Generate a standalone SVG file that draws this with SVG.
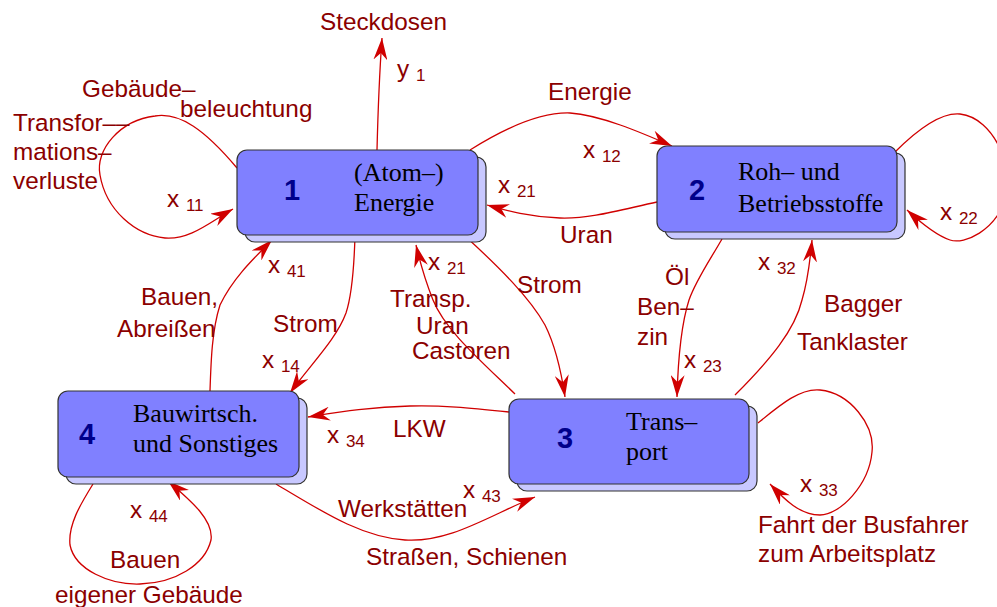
<svg xmlns="http://www.w3.org/2000/svg" width="997" height="607" viewBox="0 0 997 607">
<defs>
<marker id="ah" markerUnits="userSpaceOnUse" markerWidth="24" markerHeight="14" refX="22" refY="7" orient="auto">
<path d="M0,0 L22,7 L0,14 L7,7 Z" fill="#d00000"/>
</marker>
</defs>
<style>
.sh{fill:#c8c8ff;stroke:#333;stroke-width:1.2}
.bx{fill:#8080ff;stroke:#333;stroke-width:1.2}
.num{font-family:"Liberation Sans",Arial,sans-serif;font-weight:bold;font-size:29px;fill:#00008b;text-anchor:middle}
.nl{font-family:"Liberation Serif","Times New Roman",serif;font-size:26px;fill:#000}
.c{fill:none;stroke:#d00000;stroke-width:1.3;marker-end:url(#ah)}
.l{font-family:"Liberation Sans",Arial,sans-serif;font-size:24.3px;fill:#8b0000}
.s{font-size:17px}
</style>
<rect width="997" height="607" fill="#fff"/>
<g id="connectors">
<path class="c" d="M377,150 C378,110 379,80 382,38"/>
<path class="c" d="M237,168 C205,130 180,112 155,116 C120,120 95,150 100,175 C106,210 135,235 165,238 C190,240 210,222 233,209"/>
<path class="c" d="M470,150 C505,128 540,112 570,113 C600,115 640,132 672,146"/>
<path class="c" d="M657,202 C620,210 590,219 560,218 C530,217 508,211 487,205"/>
<path class="c" d="M895,152 C915,132 940,112 960,114 C995,118 1015,170 1005,200 C995,230 965,245 950,240 C935,235 920,222 907,210"/>
<path class="c" d="M355,236 C354,270 352,295 346,313 C336,340 310,365 290,393"/>
<path class="c" d="M210,391 C211,360 212,330 220,305 C232,280 250,262 272,240"/>
<path class="c" d="M515,394 C480,360 445,330 433,300 C425,280 420,262 416,245"/>
<path class="c" d="M465,236 C500,268 530,298 545,325 C555,345 561,370 565,397"/>
<path class="c" d="M722,239 C710,260 696,280 689,300 C681,325 678,360 677,397"/>
<path class="c" d="M735,395 C770,360 795,330 802,300 C808,280 810,262 812,240"/>
<path class="c" d="M509,412 C470,408 440,405 410,406 C370,407 340,412 308,417"/>
<path class="c" d="M276,484 C320,510 360,537 405,540 C450,543 490,515 535,497"/>
<path class="c" d="M93,484 C80,505 68,525 70,545 C75,570 110,585 140,584 C175,583 205,565 211,540 C214,520 190,500 168,481"/>
<path class="c" d="M758,423 C780,405 800,388 820,390 C850,393 875,425 872,452 C869,485 840,515 820,515 C800,515 785,500 770,484"/>
</g>
<g id="node1">
<rect class="sh" x="245" y="157" width="241" height="85" rx="10"/>
<rect class="bx" x="237" y="150" width="241" height="85" rx="10"/>
<text class="num" x="292" y="200">1</text>
<text class="nl" x="354" y="181">(Atom–)</text>
<text class="nl" x="354" y="211">Energie</text>
</g>
<g id="node2">
<rect class="sh" x="665" y="153" width="240" height="86" rx="10"/>
<rect class="bx" x="657" y="146" width="240" height="86" rx="10"/>
<text class="num" x="697" y="200">2</text>
<text class="nl" x="738" y="180">Roh– und</text>
<text class="nl" x="738" y="212">Betriebsstoffe</text>
</g>
<g id="node3">
<rect class="sh" x="517" y="406" width="240" height="85" rx="10"/>
<rect class="bx" x="509" y="399" width="240" height="85" rx="10"/>
<text class="num" x="565" y="448">3</text>
<text class="nl" x="626" y="430">Trans–</text>
<text class="nl" x="626" y="460">port</text>
</g>
<g id="node4">
<rect class="sh" x="66" y="398" width="241" height="86" rx="10"/>
<rect class="bx" x="58" y="391" width="241" height="86" rx="10"/>
<text class="num" x="87" y="444">4</text>
<text class="nl" x="133" y="422">Bauwirtsch.</text>
<text class="nl" x="133" y="452">und Sonstiges</text>
</g>
<g id="labels">
<text class="l" x="320" y="30">Steckdosen</text>
<text class="l" x="397" y="77">y <tspan class="s" dy="4">1</tspan></text>
<text class="l" x="82" y="97">Gebäude–</text>
<text class="l" x="180" y="117">beleuchtung</text>
<text class="l" x="13" y="131">Transfor––</text>
<text class="l" x="13" y="160">mations–</text>
<text class="l" x="13" y="189">verluste</text>
<text class="l" x="167" y="207">x <tspan class="s" dy="4">11</tspan></text>
<text class="l" x="548" y="100">Energie</text>
<text class="l" x="583" y="158">x <tspan class="s" dy="4">12</tspan></text>
<text class="l" x="498" y="193">x <tspan class="s" dy="4">21</tspan></text>
<text class="l" x="560" y="243">Uran</text>
<text class="l" x="940" y="220">x <tspan class="s" dy="4">22</tspan></text>
<text class="l" x="268" y="273">x <tspan class="s" dy="4">41</tspan></text>
<text class="l" x="141" y="305">Bauen,</text>
<text class="l" x="117" y="337">Abreißen</text>
<text class="l" x="273" y="332">Strom</text>
<text class="l" x="262" y="368">x <tspan class="s" dy="4">14</tspan></text>
<text class="l" x="428" y="270">x <tspan class="s" dy="4">21</tspan></text>
<text class="l" x="390" y="307">Transp.</text>
<text class="l" x="416" y="334">Uran</text>
<text class="l" x="412" y="359">Castoren</text>
<text class="l" x="517" y="293">Strom</text>
<text class="l" x="665" y="285">Öl</text>
<text class="l" x="637" y="315">Ben–</text>
<text class="l" x="637" y="345">zin</text>
<text class="l" x="684" y="368">x <tspan class="s" dy="4">23</tspan></text>
<text class="l" x="758" y="270">x <tspan class="s" dy="4">32</tspan></text>
<text class="l" x="824" y="312">Bagger</text>
<text class="l" x="797" y="350">Tanklaster</text>
<text class="l" x="393" y="437">LKW</text>
<text class="l" x="327" y="443">x <tspan class="s" dy="4">34</tspan></text>
<text class="l" x="338" y="517">Werkstätten</text>
<text class="l" x="463" y="498">x <tspan class="s" dy="4">43</tspan></text>
<text class="l" x="366" y="565">Straßen, Schienen</text>
<text class="l" x="130" y="518">x <tspan class="s" dy="4">44</tspan></text>
<text class="l" x="110" y="568">Bauen</text>
<text class="l" x="55" y="603">eigener Gebäude</text>
<text class="l" x="800" y="492">x <tspan class="s" dy="4">33</tspan></text>
<text class="l" x="758" y="533">Fahrt der Busfahrer</text>
<text class="l" x="758" y="562">zum Arbeitsplatz</text>
</g>
</svg>
